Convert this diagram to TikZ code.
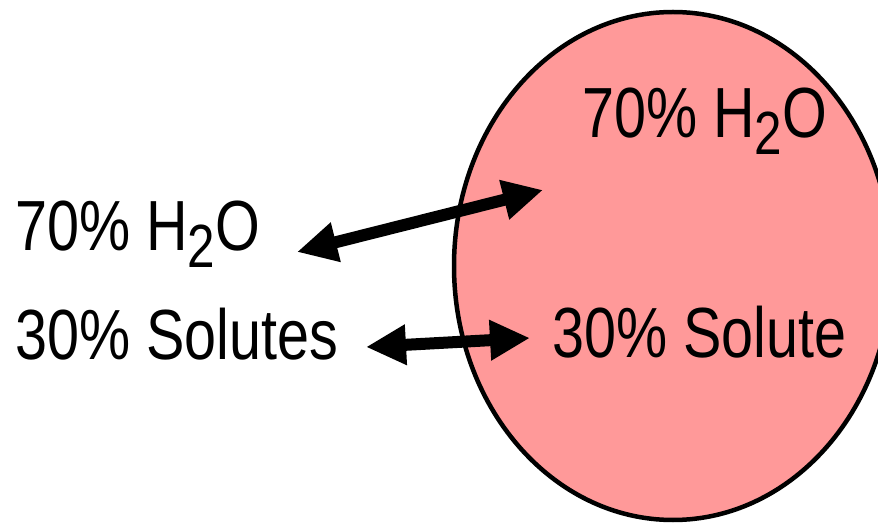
\documentclass[tikz,border=0pt]{standalone}
\usepackage{fontspec}
\setmainfont[FakeStretch=0.81]{Liberation Sans}
\usetikzlibrary{arrows.meta}
\definecolor{cellpink}{RGB}{255,153,153}
\newcommand\subtwo{\raisebox{-17pt}{\fontsize{61}{61}\selectfont 2}}
\begin{document}
\begin{tikzpicture}[x=1pt,y=-1pt,
  lbl/.style={inner sep=0pt, anchor=base west, font=\fontsize{71}{71}\selectfont},
  xarrow/.style={line width=12pt, {Triangle[length=40pt,width=38pt]}-{Triangle[length=40pt,width=38pt]}}]
\useasboundingbox (0,0) rectangle (878,526);
\clip (0,0) rectangle (878,526);
\draw[line width=4.5pt, fill=cellpink] (673,266) ellipse [x radius=219, y radius=254];
\node[lbl] (inH) at (582,138) {70\% H\subtwo O};
\node[lbl] (inS) at (552,358) {30\% Solute};
\node[lbl] (outH) at (15,251) {70\% H\subtwo O};
\node[lbl] (outS) at (15,360) {30\% Solutes};
\coordinate (a1) at (297,252);
\coordinate (a2) at (543,190);
\coordinate (b1) at (366,347);
\coordinate (b2) at (530,338);
\draw[xarrow] (a1) -- (a2);
\draw[xarrow] (b1) -- (b2);
\end{tikzpicture}
\end{document}
